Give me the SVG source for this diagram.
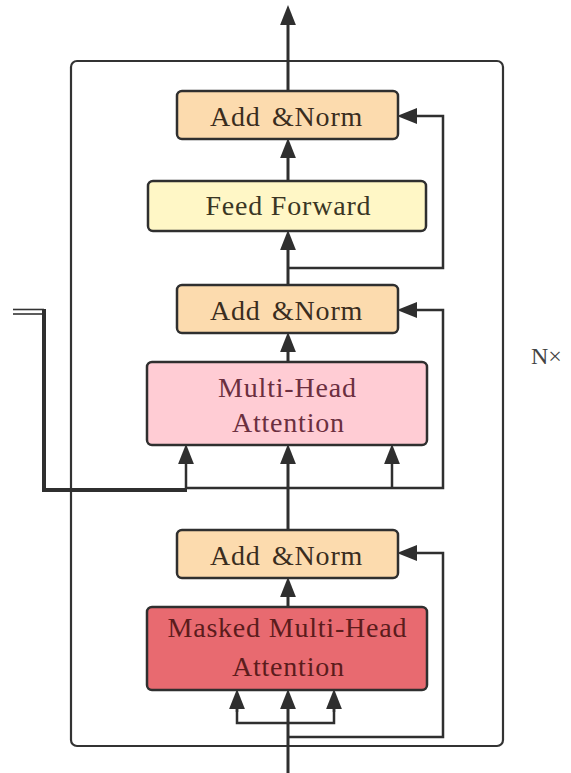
<svg xmlns="http://www.w3.org/2000/svg" width="571" height="773" viewBox="0 0 571 773">
<defs>
<marker id="ah" markerUnits="userSpaceOnUse" markerWidth="20" markerHeight="16" viewBox="0 0 19 15" refX="0" refY="7.5" orient="auto">
<path d="M0,0 L19,7.5 L0,15 Z" fill="#2f2f2f"/>
</marker>
<style>
.box{stroke:#2f2f2f;stroke-width:2.5}
.an{fill:#FCDBAE}
.ff{fill:#FFF7C6}
.mha{fill:#FFCCD4}
.mmha{fill:#E86A70}
.t{font-family:"Liberation Serif","Times New Roman",serif;font-size:28px;letter-spacing:0.8px}
.ln{fill:none;stroke:#2f2f2f;stroke-width:2.5}
.main{fill:none;stroke:#2f2f2f;stroke-width:3}
</style>
</defs>
<rect id="outer" x="71" y="61" width="432" height="685" rx="6" fill="none" stroke="#333" stroke-width="2.2"/>
<g id="connectors">
<line class="main" x1="288" y1="91" x2="288" y2="25" marker-end="url(#ah)"/>
<line class="main" x1="288" y1="181" x2="288" y2="158" marker-end="url(#ah)"/>
<line class="main" x1="288" y1="285" x2="288" y2="250" marker-end="url(#ah)"/>
<polyline class="ln" points="288,268 443,268 443,116 417,116" marker-end="url(#ah)"/>
<line class="main" x1="288" y1="362" x2="288" y2="352" marker-end="url(#ah)"/>
<polyline class="ln" points="288,488 443,488 443,310 417,310" marker-end="url(#ah)"/>
<line class="main" x1="288" y1="530" x2="288" y2="464" marker-end="url(#ah)"/>
<line class="ln" x1="186" y1="488" x2="186" y2="464" marker-end="url(#ah)"/>
<line class="ln" x1="392" y1="488" x2="392" y2="464" marker-end="url(#ah)"/>
<line class="ln" x1="186" y1="488" x2="288" y2="488"/>
<line x1="13" y1="309.5" x2="44" y2="309.5" stroke="#333" stroke-width="1.6"/>
<line x1="13" y1="314" x2="44" y2="314" stroke="#333" stroke-width="1.6"/>
<polyline points="44,309 44,490 187,490" fill="none" stroke="#2f2f2f" stroke-width="4"/>
<line class="main" x1="288" y1="607" x2="288" y2="597" marker-end="url(#ah)"/>
<polyline class="ln" points="288,737 443,737 443,553 417,553" marker-end="url(#ah)"/>
<line class="main" x1="288" y1="773" x2="288" y2="709" marker-end="url(#ah)"/>
<polyline class="ln" points="237,709 237,723 334,723 334,709"/>
<line class="ln" x1="237" y1="712" x2="237" y2="709" marker-end="url(#ah)"/>
<line class="ln" x1="334" y1="712" x2="334" y2="709" marker-end="url(#ah)"/>
</g>
<g id="addnorm1">
<rect class="box an" x="177" y="91" width="221" height="48" rx="5"/>
<text class="t" fill="#3a2d1e"><tspan x="210" y="126">Add</tspan><tspan x="272" y="126">&amp;Norm</tspan></text>
</g>
<g id="feedforward">
<rect class="box ff" x="148" y="181" width="278" height="50" rx="5"/>
<text class="t" x="288.4" y="215" text-anchor="middle" fill="#3a3624">Feed Forward</text>
</g>
<g id="addnorm2">
<rect class="box an" x="177" y="285" width="221" height="48" rx="5"/>
<text class="t" fill="#3a2d1e"><tspan x="210" y="320">Add</tspan><tspan x="272" y="320">&amp;Norm</tspan></text>
</g>
<g id="mha">
<rect class="box mha" x="147" y="362" width="280" height="83" rx="5"/>
<text class="t" x="287.4" y="397" text-anchor="middle" fill="#6b2f3f">Multi-Head</text>
<text class="t" x="288.4" y="432" text-anchor="middle" fill="#6b2f3f">Attention</text>
</g>
<g id="addnorm3">
<rect class="box an" x="177" y="530" width="221" height="48" rx="5"/>
<text class="t" fill="#3a2d1e"><tspan x="210" y="565">Add</tspan><tspan x="272" y="565">&amp;Norm</tspan></text>
</g>
<g id="masked">
<rect class="box mmha" x="147" y="607" width="280" height="83" rx="5"/>
<text class="t" x="287.4" y="637" text-anchor="middle" fill="#5b1c1c">Masked Multi-Head</text>
<text class="t" x="288.4" y="676" text-anchor="middle" fill="#5b1c1c">Attention</text>
</g>
<g id="nx">
<text x="531" y="364" font-family="Liberation Serif, serif" font-size="24" fill="#444">N×</text>
</g>
</svg>
